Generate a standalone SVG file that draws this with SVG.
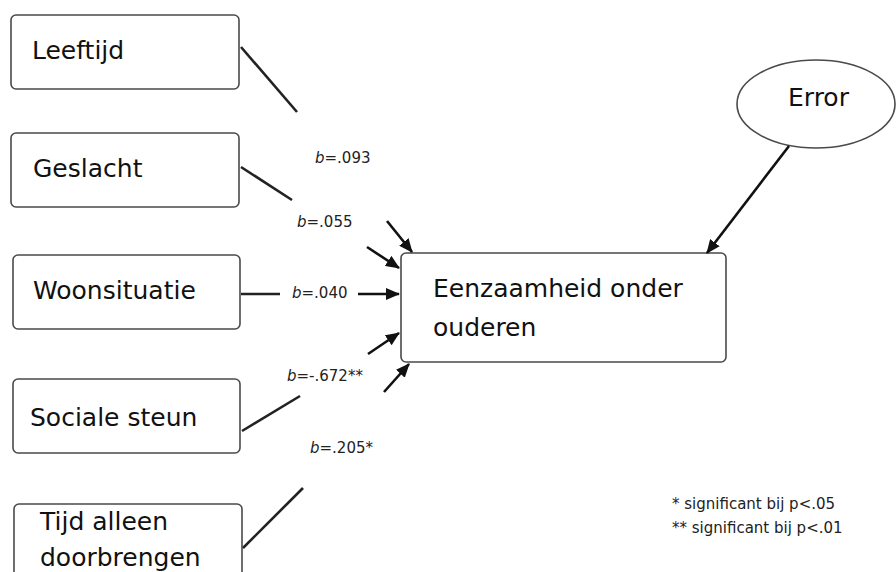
<svg xmlns="http://www.w3.org/2000/svg" width="896" height="572" viewBox="0 0 896 572">
<style>
.box{fill:#fff;stroke:#4a4a4a;stroke-width:1.6}
.t{font-family:"DejaVu Sans",sans-serif;font-size:25px;fill:#111}
.lab{font-family:"DejaVu Sans",sans-serif;font-size:15px;fill:#222}
.ln{stroke:#222;stroke-width:2.6;fill:none}
.ar{stroke:#111;stroke-width:2.6;fill:none;marker-end:url(#ah)}
</style>
<defs>
<marker id="ah" markerUnits="userSpaceOnUse" markerWidth="14" markerHeight="12" refX="13" refY="6" orient="auto">
<path d="M0,0 L14,6 L0,12 Z" fill="#111"/>
</marker>
</defs>
<rect width="896" height="572" fill="#fff"/>
<g id="leeftijd"><rect class="box" x="11" y="15" width="228" height="74" rx="5"/><text class="t" x="32" y="59">Leeftijd</text></g>
<g id="geslacht"><rect class="box" x="11" y="133" width="228" height="74" rx="5"/><text class="t" x="33" y="177">Geslacht</text></g>
<g id="woonsituatie"><rect class="box" x="13" y="255" width="227" height="74" rx="5"/><text class="t" x="33" y="299">Woonsituatie</text></g>
<g id="sociale-steun"><rect class="box" x="13" y="379" width="227" height="74" rx="5"/><text class="t" x="30" y="426">Sociale steun</text></g>
<g id="tijd-alleen"><rect class="box" x="14" y="504" width="228" height="90" rx="5"/><text class="t" x="40" y="530">Tijd alleen</text><text class="t" x="40" y="566">doorbrengen</text></g>
<g id="eenzaamheid"><rect class="box" x="401" y="253" width="325" height="109" rx="5"/><text class="t" x="433" y="297">Eenzaamheid onder</text><text class="t" x="433" y="336">ouderen</text></g>
<g id="error"><ellipse class="box" cx="816" cy="104" rx="79" ry="44"/><text class="t" x="788" y="106">Error</text></g>
<g id="connectors">
<line class="ln" x1="241" y1="47" x2="297" y2="112"/>
<line class="ar" x1="387" y1="221" x2="412" y2="252"/>
<line class="ln" x1="241" y1="167" x2="292" y2="200"/>
<line class="ar" x1="367" y1="247" x2="399" y2="268"/>
<line class="ln" x1="241" y1="294" x2="280" y2="294"/>
<line class="ar" x1="358" y1="294" x2="399" y2="294"/>
<line class="ln" x1="242" y1="431" x2="300" y2="396"/>
<line class="ar" x1="368" y1="354" x2="399" y2="333"/>
<line class="ar" x1="384" y1="392" x2="409" y2="364"/>
<line class="ln" x1="243" y1="548" x2="303" y2="488"/>
<line class="ar" x1="789" y1="146" x2="707" y2="253"/>
</g>
<g id="labels">
<text class="lab" x="315" y="163"><tspan font-style="italic">b</tspan>=.093</text>
<text class="lab" x="297" y="227"><tspan font-style="italic">b</tspan>=.055</text>
<text class="lab" x="292" y="298"><tspan font-style="italic">b</tspan>=.040</text>
<text class="lab" x="287" y="381"><tspan font-style="italic">b</tspan>=-.672**</text>
<text class="lab" x="310" y="453"><tspan font-style="italic">b</tspan>=.205*</text>
<text class="lab" x="672" y="509">* significant bij p&lt;.05</text>
<text class="lab" x="672" y="533">** significant bij p&lt;.01</text>
</g>
</svg>
